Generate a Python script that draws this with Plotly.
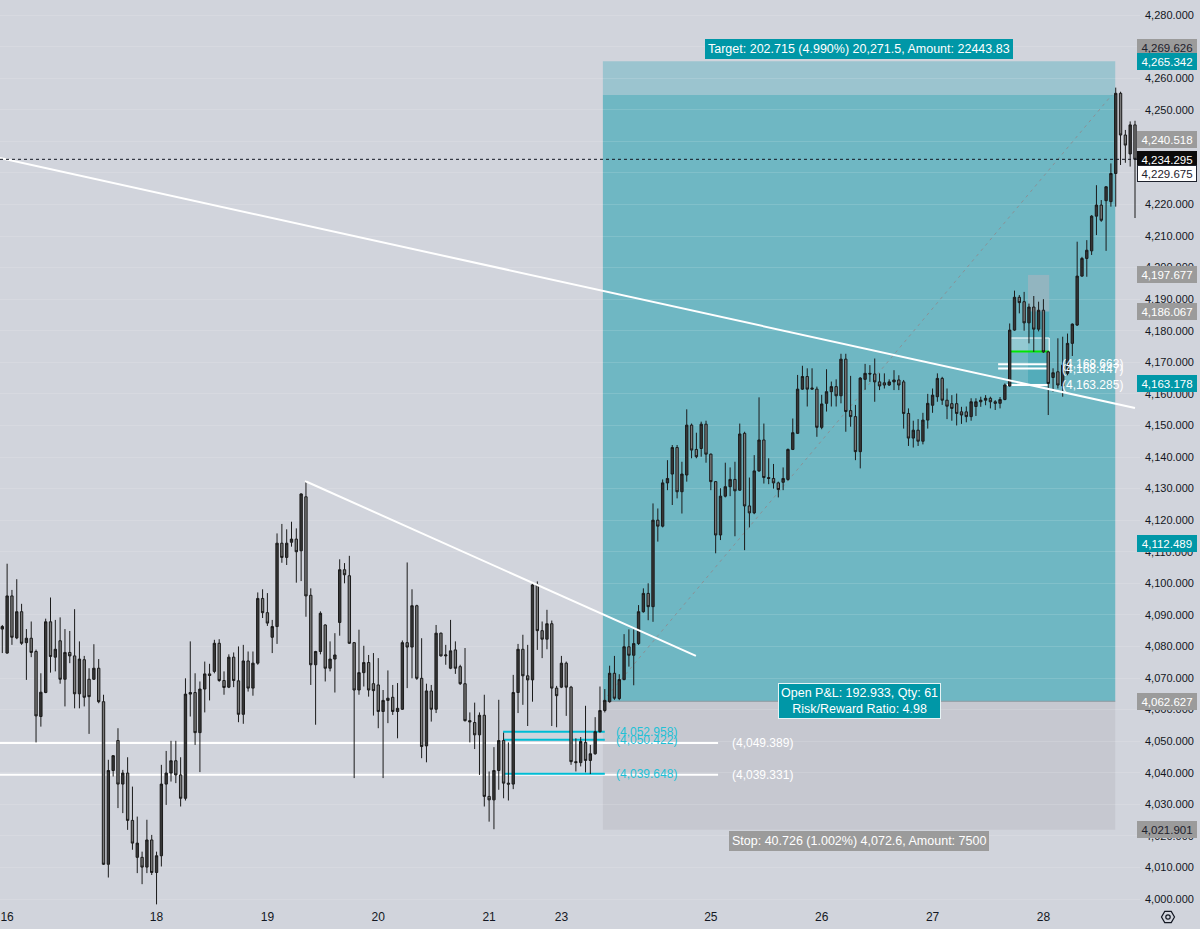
import plotly.graph_objects as go
import math

# ---------------- data (hourly bars, index based) ----------------
opens = [4085.5,4077.9,4096.0,4082.7,4091.0,4081.2,4082.6,4078.4,4057.8,4065.4,
         4087.8,4076.6,4081.8,4069.6,4078.1,4077.0,4065.0,4075.8,4069.6,4069.6,
         4073.1,4062.5,4011.0,4040.7,4050.2,4036.4,4039.9,4024.9,4013.2,4013.2,
         4010.1,4018.7,4008.4,4013.7,4036.4,4039.9,4043.8,4039.3,4031.9,4064.9,
         4065.4,4052.7,4066.5,4071.3,4072.1,4081.0,4069.2,4067.1,4076.6,4069.1,
         4058.5,4075.4,4066.8,4074.7,4095.2,4090.7,4082.9,4086.3,4112.7,4108.2,
         4113.0,4114.0,4110.3,4127.4,4096.2,4074.2,4078.4,4086.8,4073.1,4076.0,
         4087.6,4104.3,4102.4,4081.2,4066.2,4071.7,4074.9,4068.2,4067.8,4059.4,
         4062.9,4063.9,4059.4,4060.1,4081.2,4079.8,4092.9,4069.9,4048.5,4065.9,
         4060.1,4084.2,4077.0,4073.1,4078.9,4073.6,4068.2,4056.5,4055.9,4052.0,
         4058.2,4032.5,4031.4,4040.7,4050.2,4036.7,4036.4,4065.4,4079.1,4070.7,
         4069.4,4099.5,4085.0,4082.3,4087.2,4066.8,4067.1,4074.7,4067.1,4043.5,
         4043.2,4049.6,4043.9,4046.0,4053.0,4059.7,4062.5,4071.5,4063.5,4069.5,
         4079.9,4077.2,4080.9,4091.0,4096.8,4092.6,4120.0,4118.1,4131.8,4134.6,
         4143.0,4129.0,4134.3,4150.1,4142.4,4142.7,4150.4,4140.9,4132.2,4115.3,
         4127.6,4130.6,4132.9,4129.5,4147.5,4124.5,4122.3,4135.6,4145.4,4133.5,
         4133.2,4131.8,4132.0,4132.9,4142.4,4147.5,4161.5,4165.5,4161.5,4161.5,
         4149.4,4157.0,4160.7,4162.3,4159.4,4171.0,4154.7,4152.8,4141.7,4164.6,
         4166.5,4166.3,4163.8,4163.5,4162.8,4163.8,4164.4,4163.8,4153.8,4146.0,
         4148.5,4145.0,4151.7,4156.4,4159.1,4164.9,4158.0,4156.9,4156.9,4154.3,
         4154.3,4152.8,4156.0,4157.5,4158.0,4158.6,4157.5,4157.0,4158.2,4162.5,
         4180.2,4190.6,4189.2,4182.5,4187.5,4180.5,4186.5,4173.3,4165.2,4167.0,
         4162.5,4166.5,4176.0,4181.8,4197.3,4202.9,4205.3,4216.3,4219.8,4221.2,
         4220.9,4229.8,4255.2,4242.0,4236.0,4245.2]
highs = [4086.8,4106.2,4097.9,4101.3,4093.5,4085.5,4087.9,4079.0,4071.5,4088.8,
         4095.5,4088.4,4089.2,4085.5,4084.9,4091.8,4081.6,4077.0,4073.1,4080.7,
         4076.0,4064.7,4044.1,4045.6,4054.1,4040.9,4044.9,4035.6,4026.1,4015.0,
         4025.1,4020.3,4015.0,4042.5,4046.9,4050.1,4050.1,4044.9,4069.9,4081.6,
         4071.5,4068.9,4075.2,4074.5,4082.1,4082.3,4072.1,4077.5,4078.1,4080.0,
         4080.5,4078.4,4078.4,4097.1,4098.1,4096.9,4088.4,4115.8,4118.8,4117.1,
         4119.5,4117.4,4128.5,4132.5,4098.4,4078.6,4091.1,4087.0,4081.6,4084.2,
         4107.6,4106.4,4108.7,4081.4,4085.3,4080.2,4077.3,4077.9,4076.3,4066.2,
         4072.4,4067.8,4068.4,4081.9,4106.6,4098.1,4093.2,4082.6,4068.2,4067.8,
         4086.8,4084.4,4080.5,4088.4,4081.6,4074.2,4079.5,4059.1,4062.2,4059.1,
         4064.7,4040.4,4048.1,4063.1,4052.7,4049.6,4071.0,4080.8,4083.7,4080.5,
         4100.3,4100.6,4087.9,4091.6,4088.2,4067.5,4077.0,4075.2,4067.5,4050.9,
         4051.3,4061.2,4048.8,4057.6,4067.3,4066.5,4073.9,4077.0,4071.2,4083.9,
         4085.4,4085.4,4093.1,4098.4,4100.0,4125.3,4123.7,4132.9,4139.0,4143.8,
         4143.8,4138.5,4155.1,4150.6,4147.7,4151.2,4151.5,4141.1,4132.4,4130.1,
         4138.2,4136.7,4138.5,4150.6,4148.0,4133.5,4140.6,4158.9,4150.6,4139.6,
         4137.8,4132.2,4136.7,4142.7,4152.2,4166.0,4168.9,4168.1,4168.1,4162.3,
         4159.7,4167.8,4163.9,4164.6,4172.7,4172.7,4165.7,4156.5,4165.3,4169.5,
         4169.1,4171.2,4166.5,4166.5,4164.6,4167.5,4165.9,4164.4,4155.4,4151.5,
         4152.0,4154.0,4160.0,4161.7,4166.5,4165.4,4161.7,4159.6,4160.1,4155.9,
         4156.0,4158.6,4158.6,4159.1,4159.6,4159.1,4158.0,4159.0,4163.3,4182.3,
         4192.7,4191.3,4192.3,4188.6,4191.0,4189.2,4190.0,4173.6,4168.1,4177.6,
         4178.1,4179.1,4182.3,4208.2,4203.4,4208.7,4216.6,4226.1,4221.4,4225.8,
         4233.0,4257.0,4255.7,4243.6,4246.3,4246.5]
lows = [4077.9,4077.7,4080.5,4082.3,4080.5,4069.4,4076.6,4049.6,4054.6,4065.2,
        4071.7,4072.1,4068.2,4061.0,4074.7,4060.4,4060.4,4061.0,4052.3,4069.4,
        4062.0,4010.8,4006.8,4038.8,4028.8,4027.2,4021.9,4015.6,4008.2,4004.7,
        4008.2,4007.6,3998.3,4010.3,4029.8,4037.2,4036.7,4029.3,4031.2,4057.8,
        4048.8,4040.2,4059.1,4062.9,4071.5,4068.8,4064.7,4066.8,4067.1,4056.0,
        4055.5,4065.7,4064.4,4074.2,4089.0,4086.5,4077.9,4080.8,4106.5,4105.8,
        4111.6,4100.2,4100.7,4089.4,4067.8,4055.2,4077.5,4068.9,4072.1,4065.4,
        4083.4,4100.0,4080.8,4038.3,4064.7,4067.3,4064.1,4058.1,4054.1,4038.3,
        4055.7,4058.3,4050.9,4059.9,4066.8,4069.9,4069.4,4044.6,4043.3,4056.2,
        4058.9,4076.8,4074.2,4072.8,4071.3,4067.8,4056.2,4049.6,4047.5,4039.3,
        4029.3,4024.5,4022.1,4034.6,4031.9,4031.2,4034.8,4058.9,4061.5,4054.8,
        4062.5,4078.9,4076.3,4079.1,4054.8,4054.4,4066.8,4058.0,4042.5,4040.4,
        4042.0,4040.1,4039.6,4045.7,4052.7,4059.1,4062.2,4063.1,4063.0,4069.3,
        4073.6,4067.7,4080.5,4090.7,4088.3,4087.8,4113.2,4117.7,4129.5,4124.8,
        4126.9,4122.1,4132.2,4139.6,4139.6,4140.1,4138.2,4129.5,4109.5,4113.7,
        4127.2,4127.6,4114.9,4129.3,4110.5,4117.7,4121.9,4135.3,4131.6,4131.4,
        4130.0,4127.2,4129.5,4132.5,4142.2,4147.3,4161.3,4156.0,4161.3,4146.4,
        4148.8,4154.4,4156.0,4156.0,4157.0,4148.0,4149.6,4139.0,4136.4,4161.3,
        4163.8,4157.5,4161.2,4161.7,4162.5,4161.2,4161.2,4149.0,4143.5,4143.0,
        4143.5,4144.0,4149.0,4154.0,4157.5,4156.5,4152.0,4151.5,4150.0,4150.5,
        4151.0,4151.5,4153.0,4155.9,4156.4,4155.4,4154.9,4155.4,4158.0,4162.3,
        4180.0,4185.5,4180.0,4176.0,4173.3,4179.8,4173.0,4153.3,4160.7,4161.7,
        4159.1,4165.9,4172.0,4181.5,4197.1,4197.1,4204.0,4210.3,4214.5,4205.3,
        4219.3,4219.3,4232.5,4233.2,4232.0,4215.7]
closes = [4086.3,4096.0,4082.9,4091.0,4081.0,4082.6,4078.1,4058.0,4065.5,4087.8,
          4076.8,4079.1,4069.6,4078.1,4077.0,4065.0,4076.0,4063.9,4064.1,4073.1,
          4062.5,4011.0,4040.7,4045.4,4036.4,4039.9,4024.9,4017.7,4017.7,4010.1,
          4018.7,4008.4,4013.7,4036.4,4039.9,4043.8,4039.3,4031.9,4064.9,4065.4,
          4052.7,4066.5,4071.3,4070.8,4081.0,4069.2,4067.0,4076.6,4069.2,4058.5,
          4075.4,4066.8,4074.7,4095.2,4090.7,4087.4,4086.3,4112.7,4108.2,4112.7,
          4114.0,4110.0,4128.3,4096.0,4074.2,4078.4,4090.5,4073.1,4076.0,4077.3,
          4104.3,4102.7,4081.0,4066.2,4071.7,4074.9,4066.2,4066.0,4059.4,4062.9,
          4063.6,4059.4,4060.4,4081.2,4079.8,4092.9,4069.9,4048.3,4065.9,4060.1,
          4084.2,4077.0,4077.3,4078.6,4073.1,4068.2,4056.5,4056.1,4052.0,4058.2,
          4032.5,4031.4,4040.7,4050.2,4036.7,4036.4,4065.4,4079.1,4070.7,4069.4,
          4099.5,4085.0,4082.3,4087.2,4066.8,4064.4,4074.7,4067.1,4043.5,4043.2,
          4049.9,4043.9,4046.0,4053.0,4059.7,4062.9,4071.5,4063.6,4069.5,4079.9,
          4077.2,4080.9,4091.0,4096.8,4092.6,4120.0,4118.1,4131.8,4133.2,4143.0,
          4129.0,4134.6,4150.1,4142.2,4140.1,4150.4,4140.9,4132.2,4115.3,4127.6,
          4130.6,4132.9,4129.3,4147.3,4124.5,4122.3,4135.6,4145.4,4133.5,4133.2,
          4131.8,4129.7,4133.2,4142.4,4147.7,4161.5,4165.5,4161.5,4161.8,4149.4,
          4156.8,4160.7,4162.3,4159.4,4171.0,4154.4,4152.8,4141.7,4165.0,4166.5,
          4166.3,4163.8,4162.5,4162.8,4163.8,4164.4,4162.8,4153.8,4146.0,4148.5,
          4145.0,4151.7,4157.0,4159.6,4164.9,4158.0,4156.1,4155.4,4153.8,4153.3,
          4152.8,4157.5,4157.5,4158.0,4158.6,4157.5,4157.0,4158.2,4162.8,4180.2,
          4190.6,4188.9,4182.5,4187.5,4180.5,4186.5,4173.3,4163.3,4166.7,4162.8,
          4169.1,4176.0,4182.1,4197.3,4202.9,4205.5,4216.3,4219.8,4215.0,4225.6,
          4229.8,4255.2,4242.0,4238.8,4245.2,4234.3]
bars = list(range(len(closes)))

day_ticks = [1, 32, 55, 78, 101, 116, 147, 170, 193, 216]
day_labels = ["16", "18", "19", "20", "21", "23", "25", "26", "27", "28"]

# long position tool
pos_start, pos_end = 124.6, 230.9
entry_price, target_price, stop_price = 4062.627, 4265.342, 4021.901
max_reached = 4254.7
target_text = "Target: 202.715 (4.990%) 20,271.5, Amount: 22443.83"
pnl_text = "Open P&L: 192.933, Qty: 61<br>Risk/Reward Ratio: 4.98"
stop_text = "Stop: 40.726 (1.002%) 4,072.6, Amount: 7500"

# trend lines (bar index, price)
long_trend_bars, long_trend_prices = [-0.48, 235.0], [4234.7, 4155.5]
short_trend_bars, short_trend_prices = [62.8, 143.9], [4132.4, 4077.0]

# horizontal levels
white_levels = [4049.389, 4039.331]
white_level_end = 148.5
cyan_levels = [4052.958, 4050.422, 4039.648]
cyan_start, cyan_end = 103.9, 125.0

# small tools near the 28th
small_levels_draw = [4169.4, 4168.0, 4162.8]
small_levels_text = ["(4,168.663)", "(4,168.447)", "(4,163.285)"]
small_start = [206.6, 206.6, 208.4]
small_end = 217.0
short_pos_bars = [212.8, 217.2]
short_pos_stop, short_pos_entry, short_pos_target = 4197.677, 4186.067, 4163.178
white_box_bars = [209.2, 217.2]
white_box_prices = [4173.4, 4177.7]
green_level = 4173.4

current_price = 4234.295

axis_tags = [
    (4269.626, "#9b9b9b", "#1e222d", "#9b9b9b"),
    (4265.342, "#0097a7", "#ffffff", "#0097a7"),
    (4240.518, "#9b9b9b", "#ffffff", "#9b9b9b"),
    (4234.295, "#0b0b0b", "#ffffff", "#0b0b0b"),
    (4229.675, "#ffffff", "#1e222d", "#1e222d"),
    (4197.677, "#9b9b9b", "#ffffff", "#9b9b9b"),
    (4186.067, "#9b9b9b", "#ffffff", "#9b9b9b"),
    (4163.178, "#0097a7", "#ffffff", "#0097a7"),
    (4112.489, "#0097a7", "#ffffff", "#0097a7"),
    (4062.627, "#9b9b9b", "#ffffff", "#9b9b9b"),
    (4021.901, "#9b9b9b", "#1e222d", "#9b9b9b"),
]

# ---------------- figure ----------------
W, H = 1200, 929
ML, MR, MT, MB = 0, 60, 0, 24
PW, PH = W - ML - MR, H - MT - MB
PX_PER_BAR, X0PX = 4.82, 2.3
xr = [-X0PX / PX_PER_BAR, (PW - X0PX) / PX_PER_BAR]
yr = [3998.10, 4284.76]

BG = "#d1d4dc"
FONT = "Liberation Sans, Arial, sans-serif"

fig = go.Figure()
fig.add_trace(go.Candlestick(
    x=bars, open=opens, high=highs, low=lows, close=closes,
    increasing=dict(line=dict(color="#1b1b1b", width=1), fillcolor="#363636"),
    decreasing=dict(line=dict(color="#1b1b1b", width=1), fillcolor="#7a7a7a"),
    whiskerwidth=0, hoverinfo="skip", showlegend=False,
))

shapes = []
shapes.append(dict(type="rect", xref="x", yref="y", x0=pos_start, x1=pos_end,
                   y0=stop_price, y1=entry_price, fillcolor="#c6c8d0",
                   line=dict(width=0), layer="below"))
shapes.append(dict(type="rect", xref="x", yref="y", x0=pos_start, x1=pos_end,
                   y0=entry_price, y1=max_reached, fillcolor="#6fb7c3",
                   line=dict(width=0), layer="below"))
shapes.append(dict(type="rect", xref="x", yref="y", x0=pos_start, x1=pos_end,
                   y0=max_reached, y1=target_price, fillcolor="#9bc4cf",
                   line=dict(width=0), layer="below"))
shapes.append(dict(type="line", xref="x", yref="y", x0=pos_start, x1=pos_end,
                   y0=entry_price, y1=entry_price,
                   line=dict(color="#8f9aa0", width=1), layer="below"))
shapes.append(dict(type="rect", xref="x", yref="y", x0=short_pos_bars[0], x1=short_pos_bars[1],
                   y0=short_pos_entry, y1=short_pos_stop, fillcolor="rgba(175,180,190,0.55)",
                   line=dict(width=0), layer="between"))
shapes.append(dict(type="rect", xref="x", yref="y", x0=short_pos_bars[0], x1=short_pos_bars[1],
                   y0=short_pos_target, y1=short_pos_entry, fillcolor="rgba(0,140,160,0.25)",
                   line=dict(width=0), layer="between"))
shapes.append(dict(type="line", xref="x", yref="y", x0=pos_start, x1=230.2,
                   y0=entry_price, y1=max_reached,
                   line=dict(color="#8a9196", width=1, dash="3px,4px"), layer="between"))
for lv in white_levels:
    shapes.append(dict(type="line", xref="x", yref="y", x0=xr[0], x1=white_level_end,
                       y0=lv, y1=lv, line=dict(color="#ffffff", width=2), layer="between"))
for lv in cyan_levels:
    shapes.append(dict(type="line", xref="x", yref="y", x0=cyan_start, x1=cyan_end,
                       y0=lv, y1=lv, line=dict(color="#00bcd4", width=2), layer="between"))
for lv, s in zip(small_levels_draw, small_start):
    shapes.append(dict(type="line", xref="x", yref="y", x0=s, x1=small_end,
                       y0=lv, y1=lv, line=dict(color="#ffffff", width=2), layer="between"))
shapes.append(dict(type="rect", xref="x", yref="y", x0=white_box_bars[0], x1=white_box_bars[1],
                   y0=white_box_prices[0], y1=white_box_prices[1],
                   fillcolor="rgba(255,255,255,0.25)", line=dict(color="#ffffff", width=1),
                   layer="between"))
shapes.append(dict(type="line", xref="x", yref="y", x0=white_box_bars[0], x1=white_box_bars[1],
                   y0=green_level, y1=green_level, line=dict(color="#00e600", width=2),
                   layer="between"))
shapes.append(dict(type="line", xref="x", yref="y",
                   x0=long_trend_bars[0], x1=long_trend_bars[1],
                   y0=long_trend_prices[0], y1=long_trend_prices[1],
                   line=dict(color="#ffffff", width=2), layer="above"))
shapes.append(dict(type="line", xref="x", yref="y",
                   x0=short_trend_bars[0], x1=short_trend_bars[1],
                   y0=short_trend_prices[0], y1=short_trend_prices[1],
                   line=dict(color="#ffffff", width=2), layer="above"))
shapes.append(dict(type="line", xref="paper", yref="y", x0=0, x1=1,
                   y0=current_price, y1=current_price,
                   line=dict(color="#131722", width=1, dash="dot"), layer="above"))

# settings icon (hexagon) under the price scale
cx, cy, r = 1168.0, 917.0, 6.5
pts = []
for k in range(6):
    a = math.radians(60 * k)
    px, py = cx + r * math.cos(a), cy + r * math.sin(a)
    pts.append(((px - ML) / PW, (MT + PH - py) / PH))
path = "M " + " L ".join(f"{p[0]:.5f},{p[1]:.5f}" for p in pts) + " Z"
shapes.append(dict(type="path", xref="paper", yref="paper", path=path,
                   line=dict(color="#131722", width=1.2), fillcolor="rgba(0,0,0,0)"))
rr = 2.2
shapes.append(dict(type="circle", xref="paper", yref="paper",
                   x0=(cx - rr - ML) / PW, x1=(cx + rr - ML) / PW,
                   y0=(MT + PH - cy - rr) / PH, y1=(MT + PH - cy + rr) / PH,
                   line=dict(color="#131722", width=1.2)))

annotations = []
mid = (pos_start + pos_end) / 2
annotations.append(dict(x=mid, y=target_price, xref="x", yref="y", text=target_text,
                        showarrow=False, yanchor="bottom", yshift=2,
                        font=dict(family=FONT, size=12.5, color="#ffffff"),
                        bgcolor="#0097a7", borderpad=3, bordercolor="#0097a7", borderwidth=0))
annotations.append(dict(x=mid, y=entry_price, xref="x", yref="y", text=pnl_text,
                        showarrow=False, yanchor="middle",
                        font=dict(family=FONT, size=12.5, color="#ffffff"),
                        bgcolor="#0097a7", borderpad=2, bordercolor="#e6f3f5", borderwidth=1))
annotations.append(dict(x=mid, y=stop_price, xref="x", yref="y", text=stop_text,
                        showarrow=False, yanchor="top", yshift=-1,
                        font=dict(family=FONT, size=12.5, color="#ffffff"),
                        bgcolor="#9b9b9b", borderpad=3, borderwidth=0))
for lv in white_levels:
    annotations.append(dict(x=151.0, y=lv, xref="x", yref="y",
                            text=f"({lv:,.3f})", showarrow=False, xanchor="left",
                            font=dict(family=FONT, size=12, color="#ffffff")))
for lv in cyan_levels:
    annotations.append(dict(x=126.9, y=lv, xref="x", yref="y",
                            text=f"({lv:,.3f})", showarrow=False, xanchor="left",
                            font=dict(family=FONT, size=12, color="#22c1d6")))
for lv, t in zip(small_levels_draw, small_levels_text):
    annotations.append(dict(x=219.4, y=lv, xref="x", yref="y", text=t,
                            showarrow=False, xanchor="left",
                            font=dict(family=FONT, size=12, color="#ffffff")))
for price, bg, fg, bc in axis_tags:
    annotations.append(dict(x=1, y=price, xref="paper", yref="y",
                            text=f"{price:,.3f}", showarrow=False,
                            xanchor="left", yanchor="middle", xshift=-3,
                            width=56, height=13, align="center",
                            font=dict(family=FONT, size=11.5, color=fg),
                            bgcolor=bg, bordercolor=bc, borderwidth=1, borderpad=1))

fig.update_layout(
    width=W, height=H,
    margin=dict(l=ML, r=MR, t=MT, b=MB),
    paper_bgcolor=BG, plot_bgcolor=BG,
    shapes=shapes, annotations=annotations,
    showlegend=False,
    font=dict(family=FONT, color="#131722"),
    xaxis=dict(range=xr, showgrid=False, zeroline=False, showline=False,
               tickmode="array", tickvals=day_ticks, ticktext=day_labels,
               tickfont=dict(family=FONT, size=12, color="#131722"),
               ticks="", ticklabelstandoff=3,
               rangeslider=dict(visible=False), fixedrange=True),
    yaxis=dict(range=yr, side="right", dtick=10, tick0=4000, tickformat=",.3f",
               showgrid=True, gridcolor="rgba(255,255,255,0.13)", gridwidth=1,
               zeroline=False, showline=False, ticks="", ticklabelstandoff=4,
               tickfont=dict(family=FONT, size=11, color="#131722"), fixedrange=True),
)

fig.write_html("out.html")
